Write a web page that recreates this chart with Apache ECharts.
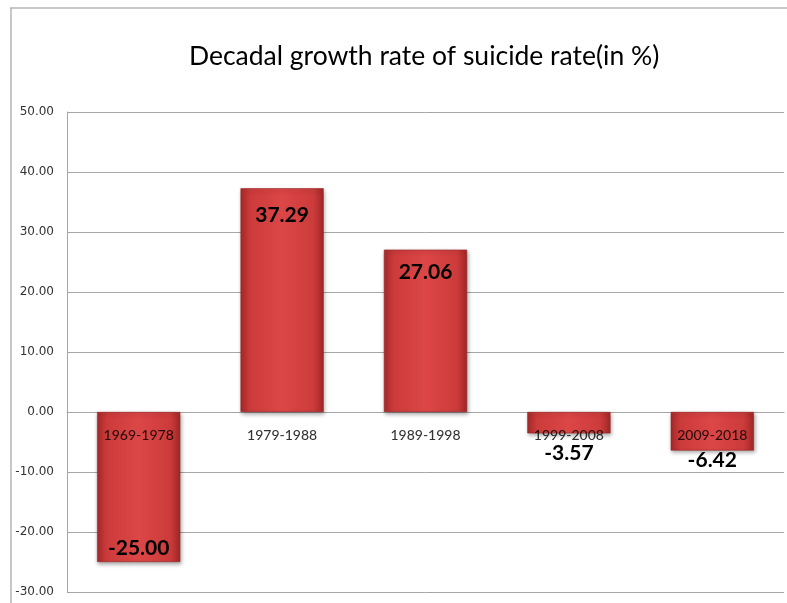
<!DOCTYPE html>
<html>
<head>
<meta charset="utf-8">
<script src="https://cdn.jsdelivr.net/npm/echarts@6/dist/echarts.min.js"></script>
<style>
  html, body { margin: 0; padding: 0; background: #ffffff; }
  #chart { width: 787px; height: 603px; }
</style>
</head>
<body>
<div id="chart"></div>
<script>
// Decades and their growth rate of the suicide rate (%)
const decades = ['1969-1978', '1979-1988', '1989-1998', '1999-2008', '2009-2018'];
const growthRates = [-25.00, 37.29, 27.06, -3.57, -6.42];
// Where each value label sits relative to its bar
const labelPlacement = ['insideBottom', 'insideTop', 'insideTop', 'bottom', 'bottom'];
const labelGap = [3, 16, 12, 9, -1];

const yMin = -30, yMax = 50, yStep = 10;

const chart = echarts.init(document.getElementById('chart'), null, { renderer: 'canvas' });

const barFill = new echarts.graphic.LinearGradient(0, 0, 1, 0, [
  { offset: 0, color: '#a82a2a' },
  { offset: 0.12, color: '#cc3b3b' },
  { offset: 0.5, color: '#dc4646' },
  { offset: 0.88, color: '#cc3b3b' },
  { offset: 1, color: '#a02727' }
]);

chart.setOption({
  animation: false,
  backgroundColor: '#ffffff',
  title: {
    text: 'Decadal growth rate of suicide rate(in %)',
    left: 184,
    top: 38,
    textStyle: { fontFamily: 'Lato', fontSize: 26.5, fontWeight: 'normal', color: '#000000' }
  },
  graphic: [
    { type: 'line', shape: { x1: 10, y1: 8, x2: 787, y2: 8 }, style: { stroke: '#b4b4b4', lineWidth: 1.5 } },
    { type: 'line', shape: { x1: 11, y1: 8, x2: 11, y2: 603 }, style: { stroke: '#b4b4b4', lineWidth: 1.5 } }
  ],
  grid: { left: 67, right: 3, top: 112, bottom: 11, containLabel: false, outerBoundsMode: 'none' },
  xAxis: {
    type: 'category',
    data: decades,
    axisLine: { show: true, onZero: true, lineStyle: { color: '#a6a6a6', width: 1 } },
    axisTick: { show: false },
    axisLabel: { show: false },
    splitLine: { show: false }
  },
  yAxis: {
    type: 'value',
    min: yMin,
    max: yMax,
    interval: yStep,
    axisLine: { show: true, lineStyle: { color: '#a6a6a6', width: 1 } },
    axisTick: { show: false },
    axisLabel: {
      margin: 13,
      fontFamily: 'DejaVu Sans',
      fontSize: 12,
      color: '#333333',
      formatter: v => v.toFixed(2)
    },
    splitLine: { show: true, lineStyle: { color: '#a6a6a6', width: 1 } }
  },
  series: [{
    type: 'bar',
    barWidth: '58%',
    z: 2,
    data: growthRates.map((v, i) => ({
      value: v,
      label: { position: labelPlacement[i], distance: labelGap[i] }
    })),
    itemStyle: {
      color: barFill,
      borderColor: '#9a2424',
      borderWidth: 0.6,
      shadowColor: 'rgba(0,0,0,0.35)',
      shadowBlur: 4,
      shadowOffsetX: 1,
      shadowOffsetY: 2
    },
    label: {
      show: true,
      fontFamily: 'Lato',
      fontSize: 21,
      fontWeight: 'bold',
      color: '#000000',
      formatter: p => p.value.toFixed(2)
    }
  }, {
    // category names sit just below the zero line, over the bars
    type: 'scatter',
    symbolSize: 0,
    z: 5,
    silent: true,
    data: decades.map(d => [d, 0]),
    label: {
      show: true,
      position: 'bottom',
      distance: 16,
      fontFamily: 'Lato',
      fontSize: 14,
      fontWeight: 500,
      color: '#000000',
      formatter: p => p.value[0]
    },
    emphasis: { disabled: true }
  }]
});
</script>
</body>
</html>
